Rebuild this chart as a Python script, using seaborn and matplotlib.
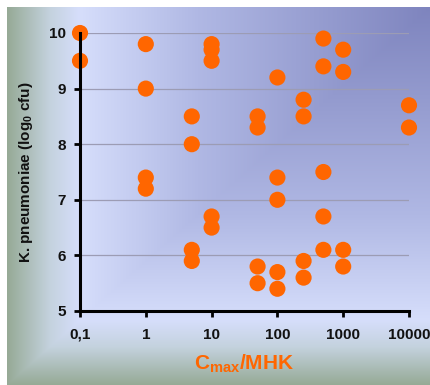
import numpy as np
import pandas as pd
import matplotlib
matplotlib.use("Agg")
import matplotlib.pyplot as plt
import seaborn as sns

# ---- data ----
cmax_mhk = [0.1, 0.1,
            1, 1, 1, 1,
            5, 5, 5, 5,
            10, 10, 10, 10, 10,
            50, 50, 50, 50,
            100, 100, 100, 100, 100,
            250, 250, 250, 250,
            500, 500, 500, 500, 500,
            1000, 1000, 1000, 1000,
            10000, 10000]
log_cfu = [10.0, 9.5,
           9.8, 9.0, 7.4, 7.2,
           8.5, 8.0, 6.1, 5.9,
           9.8, 9.7, 9.5, 6.7, 6.5,
           8.5, 8.3, 5.8, 5.5,
           9.2, 7.4, 7.0, 5.7, 5.4,
           8.8, 8.5, 5.9, 5.6,
           9.9, 9.4, 7.5, 6.7, 6.1,
           9.7, 9.3, 6.1, 5.8,
           8.7, 8.3]
x_ticks = [0.1, 1, 10, 100, 1000, 10000]
x_ticklabels = ["0,1", "1", "10", "100", "1000", "10000"]
y_ticks = [5, 6, 7, 8, 9, 10]

df = pd.DataFrame({"x": cmax_mhk, "y": log_cfu})

sns.set_theme(style="white")
plt.rcParams["font.family"] = ["Liberation Sans", "DejaVu Sans"]
plt.rcParams["mathtext.fontset"] = "custom"
plt.rcParams["mathtext.rm"] = "Liberation Sans"
plt.rcParams["mathtext.bf"] = "Liberation Sans:bold"
plt.rcParams["mathtext.it"] = "Liberation Sans:italic"
plt.rcParams["xtick.bottom"] = True
plt.rcParams["ytick.left"] = True
plt.rcParams["axes.edgecolor"] = "black"

W, H = 431, 385
fig = plt.figure(figsize=(W / 100, H / 100), dpi=100, facecolor="white")

# background gradient (rectangular gradient anchored at top-right)
bx0, by0 = 7, 7
bw, bh = W - bx0, H - by0
bg = fig.add_axes([bx0 / W, 0, bw / W, bh / H], zorder=0)
u = np.linspace(0, 1, bw)[None, :]
v = np.linspace(0, 1, bh)[:, None]
t = np.maximum(1 - u, v)
stops_t = [0.0, 0.55, 0.83, 0.9, 1.0]
stops_c = np.array([[126, 132, 190], [176, 184, 228], [214, 222, 251],
                    [196, 210, 222], [150, 170, 150]]) / 255.0
img = np.zeros((bh, bw, 3))
for k in range(3):
    img[..., k] = np.interp(t, stops_t, stops_c[:, k])
bg.imshow(img, aspect="auto", extent=[0, 1, 0, 1], origin="upper")
bg.set_axis_off()

ax = fig.add_axes([80 / W, 1 - 311 / H, (409 - 80) / W, (311 - 33) / H], zorder=1)
ax.patch.set_alpha(0)

sns.scatterplot(data=df, x="x", y="y", ax=ax, color="#ff6600", s=135,
                edgecolor="none", linewidth=0, clip_on=False, zorder=5)

ax.set_xscale("log")
ax.set_xlim(0.1, 10000)
ax.set_ylim(5, 10)
ax.set_xticks(x_ticks)
ax.set_xticklabels(x_ticklabels)
ax.minorticks_off()
ax.set_yticks(y_ticks)
ax.set_yticklabels([str(v) for v in y_ticks])

for lab in ax.get_xticklabels() + ax.get_yticklabels():
    lab.set_fontweight("bold")
    lab.set_fontsize(11)
    lab.set_color("#111111")

ax.tick_params(axis="both", which="major", direction="out", length=4,
               width=2, color="black", pad=6, bottom=True, left=True)
ax.tick_params(axis="x", pad=8)

ax.yaxis.grid(True, color="#9c9cb4", linewidth=0.9)
ax.xaxis.grid(False)
ax.set_axisbelow(True)

for side in ["top", "right"]:
    ax.spines[side].set_visible(False)
for side in ["left", "bottom"]:
    ax.spines[side].set_visible(True)
    ax.spines[side].set_color("black")
    ax.spines[side].set_linewidth(2.2)
    ax.spines[side].set_zorder(6)

ax.set_xlabel(r"$\mathbf{C_{max}/MHK}$", fontsize=15, color="#ff6600", labelpad=8)
ax.set_ylabel(r"K. pneumoniae (log$_\mathbf{0}$ cfu)", fontsize=11,
              fontweight="bold", color="#111111", labelpad=10)

fig.savefig("out.png", dpi=100, facecolor="white")
